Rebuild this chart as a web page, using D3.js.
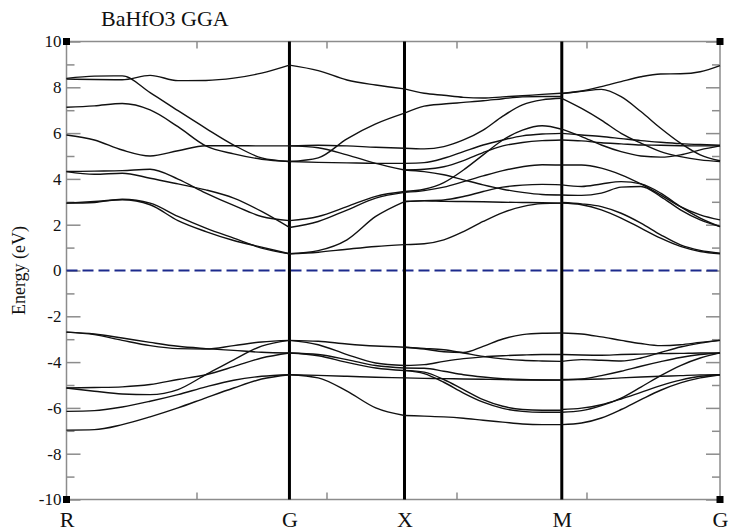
<!DOCTYPE html>
<html><head><meta charset="utf-8">
<script src="https://cdn.jsdelivr.net/npm/d3@7"></script>
<style>body{margin:0;background:#fff}svg{display:block}svg text{font-family:"Liberation Serif","DejaVu Serif","Times New Roman",serif}</style>
</head><body><svg id="c" width="729" height="532"></svg>
<script>
const titleText = "BaHfO3 GGA";
const yLabelText = "Energy (eV)";
const kLabels = ["R", "G", "X", "M", "G"];
const kPoints = [0, 1.715, 2.6, 3.81, 5.027];
const yMajor = [-10, -8, -6, -4, -2, 0, 2, 4, 6, 8, 10];
const yMinor = [-9, -7, -5, -3, -1, 1, 3, 5, 7, 9];
const xMinorTicks = [1, 2, 3, 4];
const fermiLevel = 0;

// Energies (eV) at equally spaced k samples along each segment
const bandsRG = [
  [8.36, 8.34, 8.33, 8.52, 8.29, 8.30, 8.40, 8.62, 8.97],
  [8.39, 8.49, 8.50, 7.77, 6.98, 6.21, 5.48, 4.92, 4.76],
  [7.13, 7.19, 7.29, 7.01, 6.28, 5.44, 5.09, 4.86, 4.76],
  [5.92, 5.70, 5.26, 5.00, 5.23, 5.45, 5.45, 5.44, 5.44],
  [4.32, 4.34, 4.36, 4.42, 3.99, 3.38, 2.84, 2.36, 2.18],
  [4.32, 4.20, 4.25, 4.03, 3.78, 3.52, 3.16, 2.58, 1.88],
  [2.94, 2.97, 3.11, 2.94, 2.36, 1.85, 1.41, 0.98, 0.73],
  [2.94, 3.01, 3.09, 2.87, 2.18, 1.70, 1.31, 1.02, 0.73],
  [-2.69, -2.77, -2.95, -3.14, -3.31, -3.41, -3.49, -3.57, -3.60],
  [-2.69, -2.80, -3.05, -3.28, -3.41, -3.43, -3.28, -3.12, -3.05],
  [-5.13, -5.11, -5.08, -4.98, -4.76, -4.55, -4.20, -3.82, -3.60],
  [-5.13, -5.27, -5.39, -5.42, -5.20, -4.55, -3.90, -3.30, -3.05],
  [-6.15, -6.12, -5.96, -5.71, -5.42, -5.08, -4.79, -4.62, -4.55],
  [-6.97, -6.95, -6.73, -6.39, -6.00, -5.56, -5.13, -4.74, -4.55]
];
const bandsGX = [
  [8.97, 8.73, 8.32, 8.10, 7.93],
  [4.76, 4.92, 5.75, 6.40, 6.87],
  [5.44, 5.47, 5.44, 5.38, 5.34],
  [5.44, 5.36, 5.05, 4.68, 4.39],
  [4.76, 4.72, 4.70, 4.68, 4.68],
  [2.18, 2.36, 2.79, 3.24, 3.45],
  [1.88, 2.14, 2.64, 3.16, 3.41],
  [0.73, 0.87, 1.34, 2.36, 3.01],
  [0.73, 0.80, 0.93, 1.05, 1.13],
  [-3.05, -3.09, -3.21, -3.30, -3.35],
  [-3.05, -3.24, -3.67, -4.04, -4.15],
  [-3.60, -3.67, -3.89, -4.15, -4.26],
  [-3.60, -3.72, -4.01, -4.26, -4.37],
  [-4.55, -4.58, -4.62, -4.66, -4.69],
  [-4.55, -4.69, -5.27, -6.00, -6.33]
];
const bandsXM = [
  [7.93, 7.74, 7.65, 7.56, 7.53, 7.58, 7.63, 7.69, 7.74],
  [6.87, 7.18, 7.27, 7.34, 7.41, 7.50, 7.58, 7.60, 7.60],
  [5.34, 5.31, 5.41, 5.70, 6.13, 6.74, 7.23, 7.45, 7.52],
  [4.68, 4.71, 4.90, 5.19, 5.48, 5.70, 5.88, 5.96, 5.99],
  [4.39, 4.42, 4.53, 4.80, 5.15, 5.44, 5.59, 5.67, 5.70],
  [3.45, 3.55, 3.84, 4.39, 5.05, 5.70, 6.13, 6.32, 6.17],
  [3.41, 3.49, 3.64, 3.88, 4.13, 4.36, 4.53, 4.62, 4.61],
  [3.01, 3.05, 3.08, 3.23, 3.45, 3.64, 3.73, 3.76, 3.74],
  [3.01, 3.04, 3.02, 3.01, 3.00, 2.98, 2.97, 2.96, 2.94],
  [1.13, 1.17, 1.34, 1.70, 2.14, 2.53, 2.79, 2.92, 2.94],
  [4.39, 4.32, 4.18, 3.96, 3.74, 3.55, 3.41, 3.32, 3.30],
  [-3.35, -3.43, -3.55, -3.58, -3.31, -2.99, -2.80, -2.74, -2.73],
  [-3.35, -3.40, -3.46, -3.60, -3.75, -3.86, -3.92, -3.95, -3.97],
  [-4.15, -4.11, -3.97, -3.85, -3.77, -3.72, -3.69, -3.67, -3.67],
  [-4.26, -4.27, -4.40, -4.55, -4.65, -4.72, -4.76, -4.78, -4.79],
  [-4.36, -4.44, -4.76, -5.20, -5.64, -5.93, -6.07, -6.10, -6.10],
  [-4.37, -4.50, -4.88, -5.35, -5.75, -6.02, -6.15, -6.19, -6.19],
  [-4.69, -4.71, -4.72, -4.74, -4.75, -4.76, -4.78, -4.78, -4.78],
  [-6.33, -6.36, -6.39, -6.45, -6.54, -6.62, -6.70, -6.73, -6.73]
];
const bandsMG = [
  [7.74, 7.84, 8.03, 8.25, 8.46, 8.58, 8.59, 8.68, 8.95],
  [7.72, 7.82, 7.91, 7.59, 6.94, 6.21, 5.56, 5.05, 4.79],
  [7.52, 7.08, 6.57, 5.99, 5.56, 5.19, 4.97, 4.83, 4.76],
  [6.17, 5.85, 5.48, 5.19, 5.00, 4.95, 5.05, 5.27, 5.44],
  [5.99, 5.92, 5.85, 5.76, 5.67, 5.60, 5.54, 5.50, 5.47],
  [5.70, 5.66, 5.58, 5.53, 5.48, 5.47, 5.45, 5.44, 5.44],
  [4.61, 4.61, 4.47, 4.18, 3.78, 3.30, 2.79, 2.43, 2.21],
  [3.74, 3.67, 3.78, 3.88, 3.78, 3.38, 2.79, 2.29, 1.92],
  [3.30, 3.28, 3.38, 3.64, 3.67, 3.23, 2.65, 2.21, 1.92],
  [2.97, 2.91, 2.79, 2.50, 2.07, 1.56, 1.12, 0.88, 0.76],
  [2.94, 2.87, 2.65, 2.29, 1.85, 1.41, 1.05, 0.83, 0.73],
  [-2.73, -2.77, -2.90, -3.05, -3.19, -3.28, -3.24, -3.14, -3.05],
  [-3.67, -3.69, -3.70, -3.67, -3.65, -3.63, -3.62, -3.60, -3.60],
  [-3.97, -3.89, -3.92, -3.95, -3.82, -3.58, -3.34, -3.17, -3.05],
  [-4.76, -4.76, -4.74, -4.69, -4.65, -4.62, -4.59, -4.56, -4.55],
  [-4.78, -4.74, -4.59, -4.40, -4.18, -3.98, -3.80, -3.67, -3.60],
  [-6.07, -6.01, -5.86, -5.61, -5.32, -5.03, -4.79, -4.62, -4.55],
  [-6.19, -6.12, -5.90, -5.57, -5.09, -4.59, -4.15, -3.82, -3.60],
  [-6.73, -6.66, -6.44, -6.07, -5.64, -5.23, -4.91, -4.69, -4.55]
];

const segments = [
  {from: 0, to: 1, bands: bandsRG},
  {from: 1, to: 2, bands: bandsGX},
  {from: 2, to: 3, bands: bandsXM},
  {from: 3, to: 4, bands: bandsMG}
];

const svg = d3.select("#c");
const pLeft = 66.5, pRight = 720, pTop = 41.5, pBottom = 499.5;
const x = d3.scaleLinear().domain([kPoints[0], kPoints[4]]).range([pLeft, pRight]);
const y = d3.scaleLinear().domain([-10, 10]).range([pBottom, pTop]);
const serif = "Liberation Serif, DejaVu Serif, serif";
const gray = "#8c8c8c";

// frame
svg.append("rect").attr("x", pLeft).attr("y", pTop)
  .attr("width", pRight - pLeft).attr("height", pBottom - pTop)
  .attr("fill", "none").attr("stroke", gray).attr("stroke-width", 1.5);

function styleAxis(g) {
  g.attr("font-family", null);
  g.select(".domain").remove();
  g.selectAll(".tick line").attr("stroke", gray).attr("stroke-width", 1.5);
}

// Y axes (left with labels, right without)
svg.append("g").attr("transform", `translate(${pLeft},0)`)
  .call(d3.axisLeft(y).tickValues(yMajor).tickSizeInner(-14).tickSizeOuter(0).tickPadding(5).tickFormat(d => String(d)))
  .call(styleAxis)
  .call(g => g.selectAll("text").style("font-family", serif).attr("font-size", 17).attr("fill", "#111"));
svg.append("g").attr("transform", `translate(${pLeft},0)`)
  .call(d3.axisLeft(y).tickValues(yMinor).tickSizeInner(-8).tickSizeOuter(0).tickFormat(""))
  .call(styleAxis);
svg.append("g").attr("transform", `translate(${pRight},0)`)
  .call(d3.axisRight(y).tickValues(yMajor).tickSizeInner(-14).tickSizeOuter(0).tickFormat(""))
  .call(styleAxis);
svg.append("g").attr("transform", `translate(${pRight},0)`)
  .call(d3.axisRight(y).tickValues(yMinor).tickSizeInner(-8).tickSizeOuter(0).tickFormat(""))
  .call(styleAxis);

// X ticks (top & bottom)
svg.append("g").attr("transform", `translate(0,${pTop})`)
  .call(d3.axisTop(x).tickValues(xMinorTicks).tickSizeInner(-7).tickSizeOuter(0).tickFormat(""))
  .call(styleAxis);
svg.append("g").attr("transform", `translate(0,${pBottom})`)
  .call(d3.axisBottom(x).tickValues(xMinorTicks).tickSizeInner(-7).tickSizeOuter(0).tickFormat(""))
  .call(styleAxis);

// X labels
svg.append("g").attr("transform", `translate(0,${pBottom})`)
  .call(d3.axisBottom(x).tickValues(kPoints).tickSize(0).tickPadding(12).tickFormat((d, i) => kLabels[i]))
  .call(g => g.attr("font-family", null).select(".domain").remove())
  .call(g => g.selectAll("text").style("font-family", serif).attr("font-size", 22).attr("fill", "#111"));

// Fermi level
svg.append("line").attr("x1", pLeft).attr("x2", pRight)
  .attr("y1", y(fermiLevel)).attr("y2", y(fermiLevel))
  .attr("stroke", "#1c2a8c").attr("stroke-width", 2).attr("stroke-dasharray", "11,5");

// High-symmetry vertical lines
svg.append("g").selectAll("line").data(kPoints.slice(1, 4)).join("line")
  .attr("x1", d => x(d)).attr("x2", d => x(d))
  .attr("y1", pTop).attr("y2", pBottom)
  .attr("stroke", "#000").attr("stroke-width", 3);

// Bands
const line = d3.line().x(d => x(d.k)).y(d => y(d.e)).curve(d3.curveMonotoneX);
const bg = svg.append("g").attr("fill", "none").attr("stroke", "#111").attr("stroke-width", 1.4);
segments.forEach(seg => {
  const k0 = kPoints[seg.from], k1 = kPoints[seg.to];
  seg.bands.forEach(b => {
    const n = b.length;
    const pts = b.map((e, i) => ({k: k0 + (k1 - k0) * i / (n - 1), e}));
    bg.append("path").attr("d", line(pts));
  });
});

// corner squares
[[pLeft, pTop], [pLeft, pBottom], [pRight, pTop], [pRight, pBottom]].forEach(([cx, cy]) => {
  svg.append("rect").attr("x", cx - 3.5).attr("y", cy - 3.5).attr("width", 7).attr("height", 7).attr("fill", "#000");
});

// Title
svg.append("text").attr("x", 101).attr("y", 26)
  .style("font-family", serif).attr("font-size", 22).attr("fill", "#111").text(titleText);

// Y label
svg.append("text").attr("transform", `translate(25,${y(0)}) rotate(-90)`)
  .attr("text-anchor", "middle").style("font-family", serif).attr("font-size", 18).attr("fill", "#111")
  .text(yLabelText);
</script></body></html>
